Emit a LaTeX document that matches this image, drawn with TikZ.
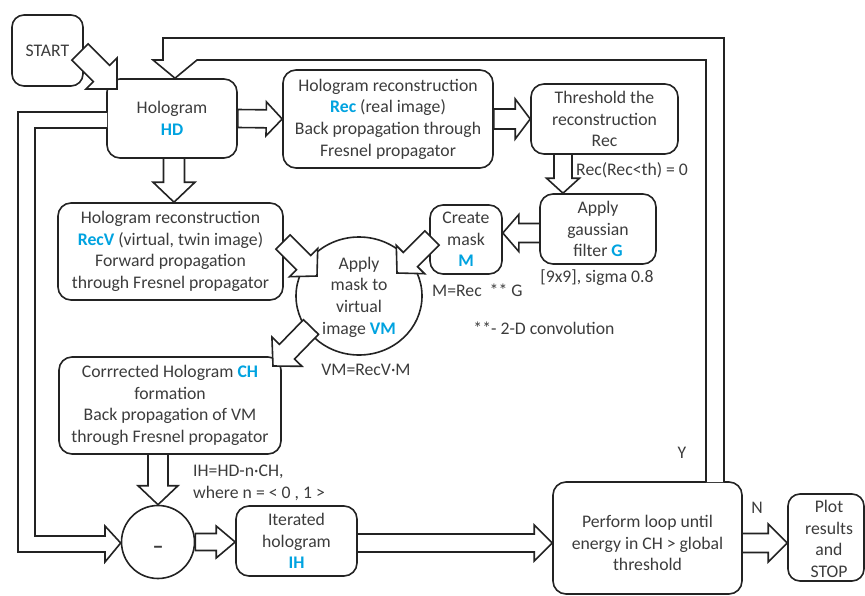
\documentclass[tikz,border=0pt]{standalone}
\usepackage{fontspec}
\setmainfont{Carlito}
\usetikzlibrary{calc,shapes.geometric}
\definecolor{tgray}{RGB}{60,60,60}
\definecolor{lgray}{RGB}{35,35,35}
\definecolor{hblue}{RGB}{0,163,224}
\newcommand\hb[1]{\textcolor{hblue}{\textbf{#1}}}
% #1 half shaft width, #2 half head width, #3 head length, #4 tail, #5 tip
\newcommand\fatarrowx[5]{%
  \draw[fat] let \p1=(#4), \p2=(#5), \n1={veclen(\x2-\x1,\y2-\y1)},
    \n2={(\x2-\x1)/\n1}, \n3={(\y2-\y1)/\n1} in
  ({\x1-#1*(\n3)},{\y1+#1*(\n2)}) --
  ({\x2-#3*(\n2)-#1*(\n3)},{\y2-#3*(\n3)+#1*(\n2)}) --
  ({\x2-#3*(\n2)-#2*(\n3)},{\y2-#3*(\n3)+#2*(\n2)}) --
  (\x2,\y2) --
  ({\x2-#3*(\n2)+#2*(\n3)},{\y2-#3*(\n3)-#2*(\n2)}) --
  ({\x2-#3*(\n2)+#1*(\n3)},{\y2-#3*(\n3)-#1*(\n2)}) --
  ({\x1+#1*(\n3)},{\y1-#1*(\n2)}) -- cycle;}
\newcommand\fatarrow[2]{\fatarrowx{10.5}{21}{20}{#1}{#2}}
\begin{document}
\begin{tikzpicture}[x=1pt,y=-1pt,
  txt/.style={font=\fontsize{17.7}{21.7}\selectfont, text=tgray, align=center, inner sep=0pt},
  box/.style={txt, draw=lgray, line width=1.6, rounded corners=13, fill=white},
  circ/.style={draw=lgray, line width=1.6, fill=white},
  fat/.style={draw=lgray, line width=1.6, fill=white, line join=miter}]
\useasboundingbox (0,0) rectangle (865,595);

% boxes
\node[box, minimum width=71, minimum height=71, rounded corners=12] (start) at (47.5,50.5) {START};
\node[box, minimum width=130, minimum height=79] (hd) at (172,118.5) {Hologram\\\hb{HD}};
\node[box, minimum width=210, minimum height=98] (rec) at (388,119) {Hologram reconstruction\\\hb{Rec} (real image)\\Back propagation through\\Fresnel propagator};
\node[box, minimum width=147, minimum height=70] (thr) at (604.5,119) {Threshold the\\reconstruction\\Rec};
\node[box, minimum width=116, minimum height=70] (gauss) at (598,229) {Apply\\gaussian\\filter \hb{G}};
\node[box, minimum width=72, minimum height=69] (mask) at (466,239.5) {Create\\mask\\\hb{M}};
\node[box, minimum width=225, minimum height=97] (recv) at (170.5,251.5) {Hologram reconstruction\\\hb{RecV} (virtual, twin image)\\Forward propagation\\through Fresnel propagator};
\node[circ, ellipse, minimum width=126, minimum height=118, inner sep=0pt] (vm) at (359,296) {};
\node[txt] (vmt) at (359,297) {Apply\\mask to\\virtual\\image \hb{VM}};
\node[box, minimum width=222, minimum height=97] (ch) at (170,405.5) {Corrrected Hologram \hb{CH}\\formation\\Back propagation of VM\\through Fresnel propagator};
\node[circ, circle, minimum size=73, inner sep=0pt] (minus) at (158,542) {};
\node[txt, font=\fontsize{22}{24}\selectfont\bfseries] (minust) at (158,550) {–};
\node[box, minimum width=121, minimum height=70] (ih) at (296.5,541) {Iterated\\hologram\\\hb{IH}};
\node[box, minimum width=189, minimum height=112] (loop) at (647.5,538) {};
\node[txt] (loopt) at (647.5,543) {Perform loop until\\energy in CH > global\\threshold};
\node[box, minimum width=76, minimum height=87, rounded corners=12] (plot) at (826,537.5) {};
\node[txt] (plott) at (829,539) {Plot\\results\\and\\STOP};

% labels
\node[txt, anchor=west] (l1) at (576,170) {Rec(Rec<th) = 0};
\node[txt] (l2) at (597,278) {[9x9], sigma 0.8};
\node[txt, anchor=west] (l3) at (432,290) {M=Rec\ \ ** G};
\node[txt] (l4) at (544,328) {**- 2-D convolution};
\node[txt] (l5) at (366,370) {VM=RecV·M};
\node[txt, anchor=west, align=left] (l6) at (193,483) {IH=HD-n·CH,\\where n = < 0 , 1 >};
\node[txt] (ly) at (682,453) {Y};
\node[txt] (ln) at (757,508) {N};

% coordinates
\coordinate (sa) at (80,52);
\coordinate (sb) at (117,89);
\coordinate (a4) at (174,158);
\coordinate (a5) at (563,154);
\coordinate (a6) at (540,233);
\coordinate (a7a) at (283,242);
\coordinate (a7b) at (317,276);
\coordinate (a8a) at (432,238);
\coordinate (a8b) at (397,273);
\coordinate (a9a) at (311,327);
\coordinate (a9b) at (273,366);
\coordinate (a10) at (158,454);
\coordinate (a13) at (742,543);
\coordinate (a12) at (357,543);

% fat arrows
\fatarrowx{11.5}{22}{22}{sa}{sb}
\fatarrowx{9}{17}{16}{hd.east}{rec.west}
\fatarrowx{10}{20}{15}{rec.east}{thr.west}
\fatarrow{a4}{a4 |- recv.north}
\fatarrowx{9}{16.5}{15}{a5}{a5 |- gauss.north}
\fatarrowx{9.5}{18.5}{16}{a6}{a6 -| mask.east}
\fatarrowx{10}{20}{19}{a7a}{a7b}
\fatarrowx{10}{20}{19}{a8a}{a8b}
\fatarrow{a9a}{a9b}
\fatarrowx{10}{20}{19}{a10}{minus.north}
\fatarrowx{8.5}{16}{19}{minus.east}{minus.east -| ih.west}
\fatarrowx{9}{18}{18}{a12}{a12 -| loop.west}
\fatarrowx{9.5}{19}{19}{a13}{a13 -| plot.west}

% left feedback band: HD -> minus
\draw[fat] (107,112) -- (18,112) -- (18,552) -- (105,552) -- (105,562) -- (minus.west |- a12) -- (105,526) -- (105,536) -- (35,536) -- (35,128) -- (107,128);
% Y loop band: loop -> HD
\draw[fat] (706,482) -- (706,60) -- (197,60) -- (hd.north -| 175,0) -- (153,60) -- (163,60) -- (163,38) -- (724,38) -- (724,482);
\end{tikzpicture}
\end{document}
